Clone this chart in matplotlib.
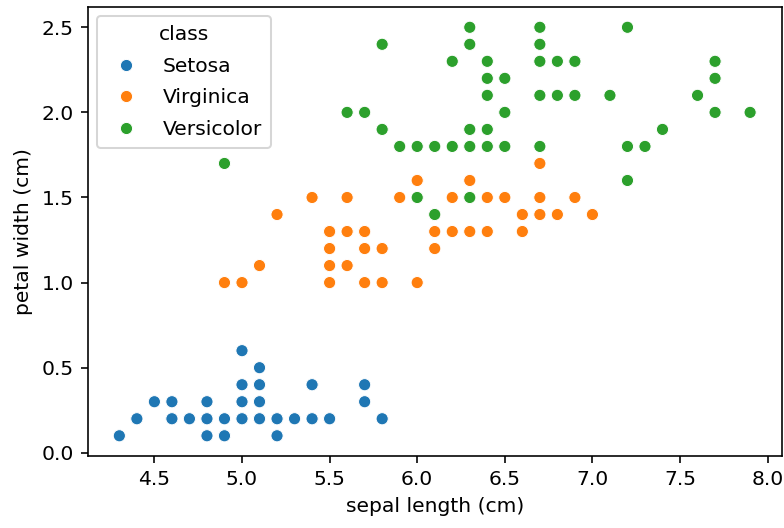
import numpy as np
import pandas as pd
import matplotlib
matplotlib.use("Agg")
import matplotlib.pyplot as plt
import seaborn as sns

# Iris measurements: sepal length and petal width per class (cm)
setosa_sepal_length = [5.1, 4.9, 4.7, 4.6, 5.0, 5.4, 4.6, 5.0, 4.4, 4.9,
                       5.4, 4.8, 4.8, 4.3, 5.8, 5.7, 5.4, 5.1, 5.7, 5.1,
                       5.4, 5.1, 4.6, 5.1, 4.8, 5.0, 5.0, 5.2, 5.2, 4.7,
                       4.8, 5.4, 5.2, 5.5, 4.9, 5.0, 5.5, 4.9, 4.4, 5.1,
                       5.0, 4.5, 4.4, 5.0, 5.1, 4.8, 5.1, 4.6, 5.3, 5.0]
setosa_petal_width = [0.2, 0.2, 0.2, 0.2, 0.2, 0.4, 0.3, 0.2, 0.2, 0.1,
                      0.2, 0.2, 0.1, 0.1, 0.2, 0.4, 0.4, 0.3, 0.3, 0.3,
                      0.2, 0.4, 0.2, 0.5, 0.2, 0.2, 0.4, 0.2, 0.2, 0.2,
                      0.2, 0.4, 0.1, 0.2, 0.1, 0.2, 0.2, 0.1, 0.2, 0.2,
                      0.3, 0.3, 0.2, 0.6, 0.4, 0.3, 0.2, 0.2, 0.2, 0.2]

virginica_sepal_length = [7.0, 6.4, 6.9, 5.5, 6.5, 5.7, 6.3, 4.9, 6.6, 5.2,
                          5.0, 5.9, 6.0, 6.1, 5.6, 6.7, 5.6, 5.8, 6.2, 5.6,
                          5.9, 6.1, 6.3, 6.1, 6.4, 6.6, 6.8, 6.7, 6.0, 5.7,
                          5.5, 5.5, 5.8, 6.0, 5.4, 6.0, 6.7, 6.3, 5.6, 5.5,
                          5.5, 6.1, 5.8, 5.0, 5.6, 5.7, 5.7, 6.2, 5.1, 5.7]
virginica_petal_width = [1.4, 1.5, 1.5, 1.3, 1.5, 1.3, 1.6, 1.0, 1.3, 1.4,
                         1.0, 1.5, 1.0, 1.4, 1.3, 1.4, 1.5, 1.0, 1.5, 1.1,
                         1.8, 1.3, 1.5, 1.2, 1.3, 1.4, 1.4, 1.7, 1.5, 1.0,
                         1.1, 1.0, 1.2, 1.6, 1.5, 1.6, 1.5, 1.3, 1.3, 1.3,
                         1.2, 1.4, 1.2, 1.0, 1.3, 1.2, 1.3, 1.3, 1.1, 1.3]

versicolor_sepal_length = [6.3, 5.8, 7.1, 6.3, 6.5, 7.6, 4.9, 7.3, 6.7, 7.2,
                           6.5, 6.4, 6.8, 5.7, 5.8, 6.4, 6.5, 7.7, 7.7, 6.0,
                           6.9, 5.6, 7.7, 6.3, 6.7, 7.2, 6.2, 6.1, 6.4, 7.2,
                           7.4, 7.9, 6.4, 6.3, 6.1, 7.7, 6.3, 6.4, 6.0, 6.9,
                           6.7, 6.9, 5.8, 6.8, 6.7, 6.7, 6.3, 6.5, 6.2, 5.9]
versicolor_petal_width = [2.5, 1.9, 2.1, 1.8, 2.2, 2.1, 1.7, 1.8, 1.8, 2.5,
                          2.0, 1.9, 2.1, 2.0, 2.4, 2.3, 1.8, 2.2, 2.3, 1.5,
                          2.3, 2.0, 2.0, 1.8, 2.1, 1.8, 1.8, 1.8, 2.1, 1.6,
                          1.9, 2.0, 2.2, 1.5, 1.4, 2.3, 2.4, 1.8, 1.8, 2.1,
                          2.4, 2.3, 1.9, 2.3, 2.5, 2.3, 1.9, 2.0, 2.3, 1.8]

class_names = ["Setosa", "Virginica", "Versicolor"]

df = pd.DataFrame({
    "sepal length (cm)": setosa_sepal_length + virginica_sepal_length + versicolor_sepal_length,
    "petal width (cm)": setosa_petal_width + virginica_petal_width + versicolor_petal_width,
    "class": [class_names[0]] * len(setosa_sepal_length)
             + [class_names[1]] * len(virginica_sepal_length)
             + [class_names[2]] * len(versicolor_sepal_length),
})

dpi = 146
fig = plt.figure(figsize=(784 / dpi, 528 / dpi), dpi=dpi)
ax = fig.add_axes([0.112, 0.136, 0.885, 0.851])

sns.scatterplot(data=df, x="sepal length (cm)", y="petal width (cm)",
                hue="class", hue_order=class_names, ax=ax)
ax.legend(title="class", loc="upper left", labelspacing=0.62,
          borderaxespad=0.45, borderpad=0.45)

fig.savefig("out.png", dpi=dpi)
